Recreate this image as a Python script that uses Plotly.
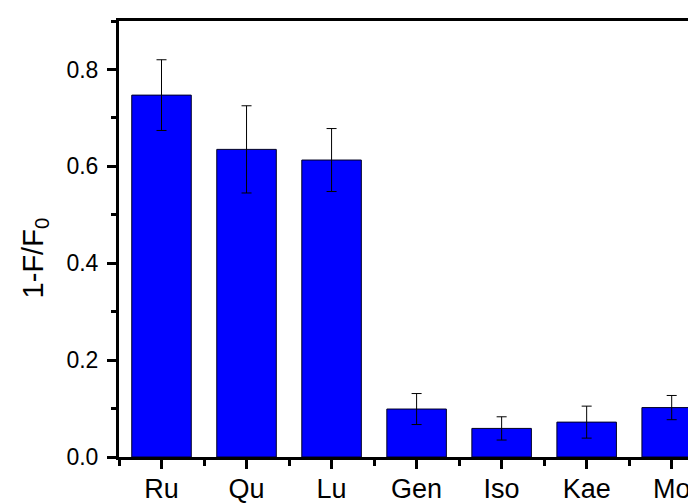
import plotly.graph_objects as go

categories = ["Ru", "Qu", "Lu", "Gen", "Iso", "Kae", "Mo"]
values = [0.747, 0.635, 0.613, 0.099, 0.059, 0.072, 0.102]
errors = [0.073, 0.090, 0.065, 0.032, 0.024, 0.033, 0.025]
y_ticks = [0.0, 0.2, 0.4, 0.6, 0.8]

x_pos = list(range(len(categories)))
FONT = "Arial, Liberation Sans, sans-serif"

fig = go.Figure()
fig.add_trace(go.Bar(
    x=x_pos, y=values, width=0.7,
    marker=dict(color="#0000FF", line=dict(color="#000022", width=1)),
    error_y=dict(type="data", array=errors, visible=True,
                 color="#000000", thickness=1, width=5),
))

fig.update_layout(
    template="none",
    width=696, height=504,
    margin=dict(l=111, r=0, t=13, b=55, pad=0),
    paper_bgcolor="white", plot_bgcolor="white",
    showlegend=False,
    font=dict(family=FONT, color="black"),
    xaxis=dict(
        automargin=False,
        range=[-0.5, 6.38],
        tickmode="array", tickvals=x_pos, ticktext=categories,
        ticks="outside", ticklen=9, tickwidth=3, tickcolor="black",
        ticklabelstandoff=-3,
        tickfont=dict(size=27, family=FONT, color="black"),
        showline=True, linewidth=3, linecolor="black", mirror=True,
        showgrid=False, zeroline=False,
        minor=dict(tickmode="array", tickvals=[i + 0.5 for i in range(-1, 7)],
                   ticks="outside", ticklen=6, tickwidth=3, tickcolor="black",
                   showgrid=False),
    ),
    yaxis=dict(
        automargin=False,
        range=[0, 0.9],
        tickmode="array", tickvals=y_ticks, tickformat=".1f",
        ticks="outside", ticklen=9, tickwidth=3, tickcolor="black",
        ticklabelstandoff=4,
        tickfont=dict(size=23, family=FONT, color="black"),
        showline=True, linewidth=3, linecolor="black",
        showgrid=False, zeroline=False,
        minor=dict(dtick=0.1, tick0=0, ticks="outside", ticklen=5,
                   tickwidth=3, tickcolor="black", showgrid=False),
    ),
    annotations=[dict(
        text="1-F/F<sub>0</sub>", textangle=-90,
        xref="paper", x=0, xshift=-84, xanchor="center",
        yref="y", y=0.41, yanchor="middle",
        showarrow=False, font=dict(size=29, family=FONT, color="black"),
    )],
)

fig.write_html("out.html")
